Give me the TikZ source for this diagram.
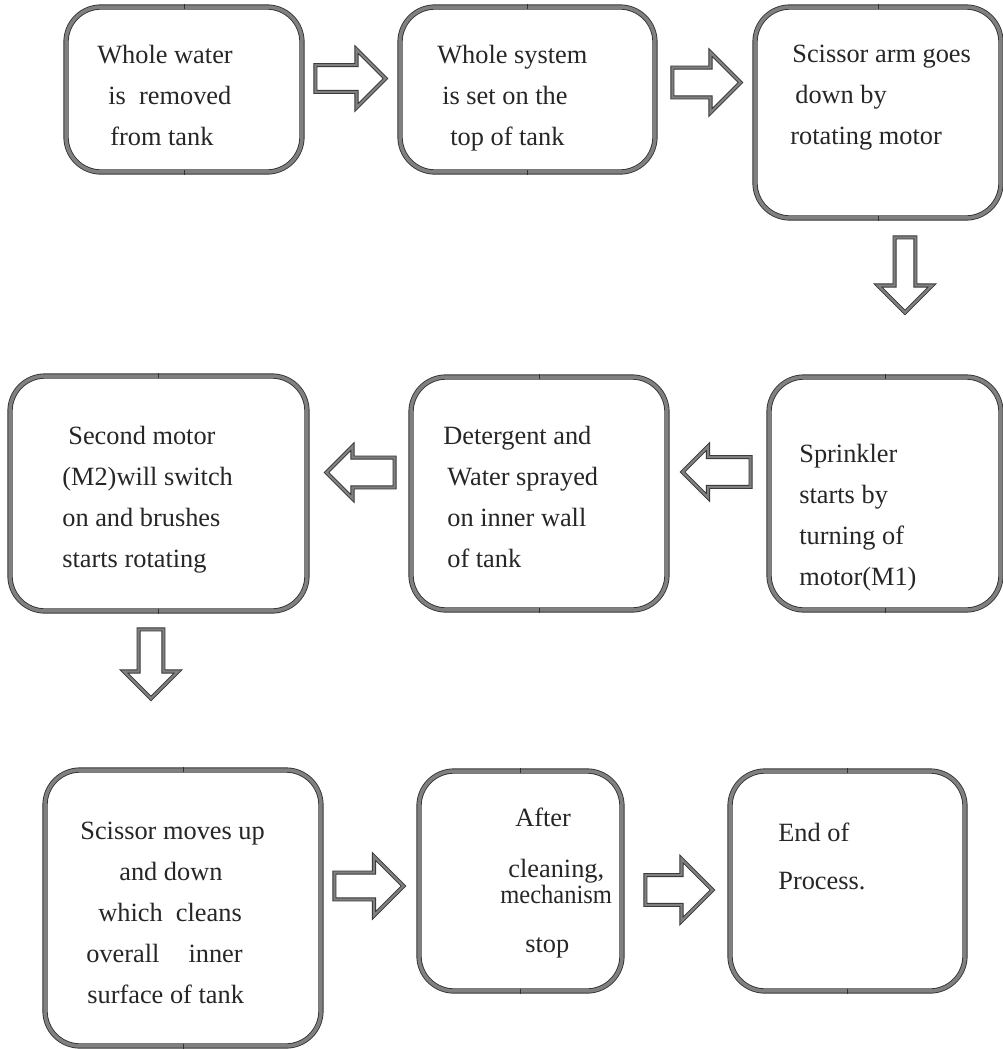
\documentclass[tikz,border=0pt]{standalone}
\usepackage{fontspec}
\setmainfont{Liberation Serif}
\usepackage{graphicx}
\usetikzlibrary{shapes,arrows,positioning,calc}

\tikzset{
  stepbox/.style={draw=black!80, double=black!50, double distance=2pt, line width=0.5pt, rounded corners=0.7cm, fill=white},
  steptext/.style={font=\fontsize{15}{23.3}\selectfont, text=black!85, align=left, inner sep=0pt, anchor=north west},
  blockarrow/.style={single arrow, draw=black!80, double=black!50, double distance=1.3pt, line width=0.5pt, fill=white, inner xsep=0pt, single arrow tip angle=90, anchor=tail}
}

\begin{document}
\begin{tikzpicture}[x=0.02cm, y=-0.02cm]
    \useasboundingbox (0,0) rectangle (1003,1049);

    % first row
    \node[stepbox, minimum width=4.72cm, minimum height=3.3cm] (b1) at (184,89.5) {};
    \node[stepbox, minimum width=5.1cm, minimum height=3.3cm] (b2) at (527.5,89.5) {};
    \node[stepbox, minimum width=4.92cm, minimum height=4.22cm] (b3) at (878,112.5) {};
    \node[steptext] (t1) at (97,45) {Whole water\\\hspace*{0.22cm}is~ removed\\\hspace*{0.26cm}from tank};
    \node[steptext] (t2) at (437,45) {Whole system\\\hspace*{0.1cm}is set on the\\\hspace*{0.26cm}top of tank};
    \node[steptext] (t3) at (790,45) {\hspace*{0.04cm}Scissor arm goes\\\hspace*{0.1cm}down by\\rotating motor};
    \node[blockarrow, minimum height=1.4cm, inner ysep=0.26cm, single arrow head extend=0.31cm] (a1) at (315,78.5) {};
    \node[blockarrow, minimum height=1.36cm, inner ysep=0.29cm, single arrow head extend=0.3cm] (a2) at (672,82.5) {};
    \node[blockarrow, rotate=-90, minimum height=1.5cm, inner ysep=0.2cm, single arrow head extend=0.33cm] (a3) at (905,237) {};

    % second row
    \node[stepbox, minimum width=5.94cm, minimum height=4.7cm] (b4) at (158.5,493.5) {};
    \node[stepbox, minimum width=5.12cm, minimum height=4.66cm] (b5) at (539,493.5) {};
    \node[stepbox, minimum width=4.64cm, minimum height=4.66cm] (b6) at (885,493.5) {};
    \node[steptext] (t4) at (62,426) {\hspace*{0.12cm}Second motor\\(M2)will switch\\on and brushes\\starts rotating};
    \node[steptext] (t5) at (443,426) {Detergent and\\\hspace*{0.08cm}Water sprayed\\\hspace*{0.08cm}on inner wall\\\hspace*{0.08cm}of tank};
    \node[steptext] (t6) at (799,444) {Sprinkler\\starts by\\turning of\\motor(M1)};
    \node[blockarrow, rotate=180, minimum height=1.36cm, inner ysep=0.29cm, single arrow head extend=0.21cm] (a4) at (751,472) {};
    \node[blockarrow, rotate=180, minimum height=1.36cm, inner ysep=0.29cm, single arrow head extend=0.22cm] (a5) at (395,472.5) {};
    \node[blockarrow, rotate=-90, minimum height=1.38cm, inner ysep=0.24cm, single arrow head extend=0.29cm] (a6) at (151,629) {};

    % third row
    \node[stepbox, minimum width=5.52cm, minimum height=5.52cm] (b7) at (183,908) {};
    \node[stepbox, minimum width=4.06cm, minimum height=4.4cm] (b8) at (520.5,881) {};
    \node[stepbox, minimum width=4.7cm, minimum height=4.4cm] (b9) at (847.5,881) {};
    \node[steptext] (t7) at (80,822) {Scissor moves up\\\hspace*{0.78cm}and down\\\hspace*{0.36cm}which~ cleans\\\hspace*{0.12cm}overall\hspace{1.1em}inner\\\hspace*{0.14cm}surface of tank};
    \node[steptext] (t8) at (515,808) {After\\[0.2cm]\hspace*{-0.14cm}cleaning,\\[-0.3cm]\hspace*{-0.3cm}\scalebox{0.93}[1]{mechanism}\\[0.16cm]\hspace*{0.2cm}stop};
    \node[steptext] (t9) at (778,823) {End of\\[0.14cm]Process.};
    \node[blockarrow, minimum height=1.38cm, inner ysep=0.26cm, single arrow head extend=0.32cm] (a7) at (334,886) {};
    \node[blockarrow, minimum height=1.34cm, inner ysep=0.29cm, single arrow head extend=0.32cm] (a8) at (645,890) {};

    % small joints on the box borders
    \foreach \b in {b1,b2,b3,b4,b5,b6,b7,b8,b9}
      \draw[black!80, line width=0.4pt] ([yshift=1.5pt]\b.north) -- ([yshift=-1.5pt]\b.north)
                                        ([yshift=1.5pt]\b.south) -- ([yshift=-1.5pt]\b.south);
\end{tikzpicture}
\end{document}
